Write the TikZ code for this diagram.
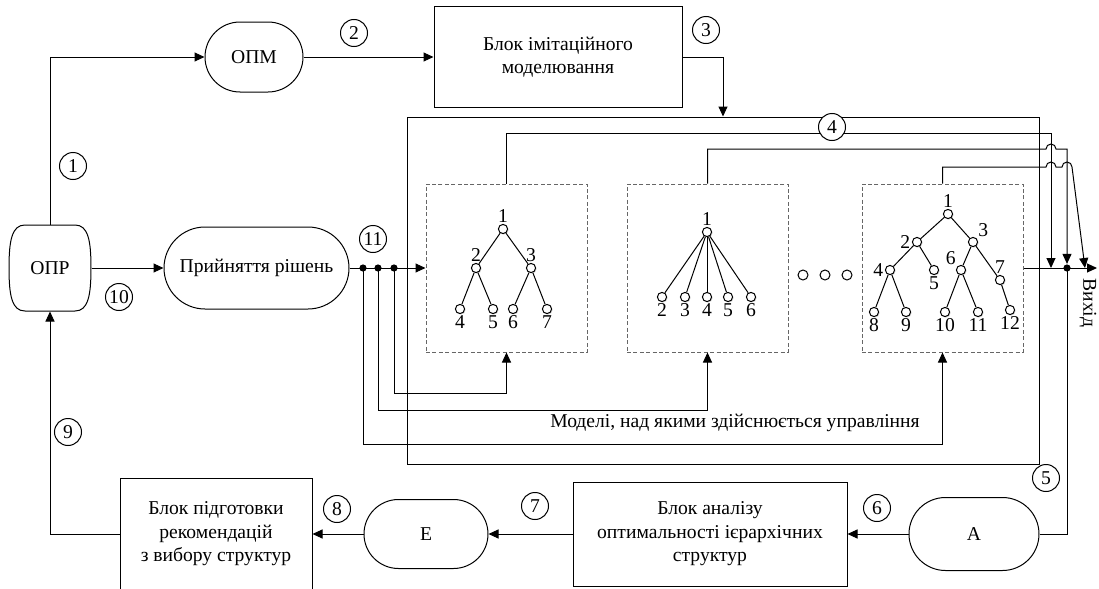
\documentclass[tikz,border=0pt]{standalone}
\usepackage{fontspec}
\setmainfont{Liberation Serif}
\usetikzlibrary{arrows.meta,shapes.misc,shadows}

\tikzset{
  link/.style={-{Triangle[length=5pt,width=4.5pt]}},
  blockbox/.style={draw, rectangle, align=center, inner sep=2pt},
  termbox/.style={draw, rounded rectangle, align=center, inner sep=2pt},
  modelbox/.style={draw=black!60, dash pattern=on 2pt off 1.2pt, minimum width=80.5pt, minimum height=84pt},
  num/.style={draw, circle, fill=white, minimum size=13.5pt, inner sep=0pt},
  vert/.style={draw, circle, fill=white, minimum size=4.6pt, inner sep=0pt,
    drop shadow={shadow xshift=0.5pt, shadow yshift=-0.5pt, opacity=0.3}},
  lbl/.style={inner sep=0.6pt},
  dot/.style={circle, fill, inner sep=0pt, minimum size=3.6pt},
}

\begin{document}
\begin{tikzpicture}[x=0.5pt, y=-0.5pt, line width=0.5pt, font=\rmfamily\fontsize{9.8}{11.8}\selectfont]
  \useasboundingbox (0,0) rectangle (1099,589);

  \node[minimum width=41pt, minimum height=43pt] (opr) at (50,268) {ОПР};
  \draw (25,225) -- (75,225) .. controls (88,225) and (91,240) .. (91,268)
    .. controls (91,296) and (88,311) .. (75,311) -- (25,311)
    .. controls (12,311) and (9,296) .. (9,268)
    .. controls (9,240) and (12,225) .. (25,225) -- cycle;

  \node[termbox, minimum width=53pt, minimum height=35pt] (opm) at (254,57) {ОПМ};
  \node[blockbox, minimum width=124pt, minimum height=50.5pt] (sim) at (558,57) {Блок імітаційного\\моделювання};
  \node[termbox, minimum width=96.5pt, minimum height=41pt] (pr) at (256.5,268) {Прийняття рішень};
  \node[draw, minimum width=316pt, minimum height=173.5pt] (frame) at (723,290.5) {};

  \node[modelbox] (m1) at (506.5,268) {};
  \node[modelbox] (m2) at (707.5,268) {};
  \node[modelbox] (m3) at (942.5,268) {};

  \node[termbox, minimum width=69pt, minimum height=36.5pt] (fa) at (974,534) {А};
  \node[blockbox, minimum width=137pt, minimum height=52pt] (an) at (710,534) {Блок аналізу\\оптимальності ієрархічних\\структур};
  \node[termbox, minimum width=66pt, minimum height=34.5pt] (fe) at (426,534) {Е};
  \node[blockbox, minimum width=96pt, minimum height=55.5pt] (rec) at (216,534) {Блок підготовки\\рекомендацій\\з вибору структур};

  % tree 1
  \node[vert, label={[lbl]above:1}] (a1) at (503,229) {};
  \node[vert, label={[lbl]above:2}] (a2) at (476,268) {};
  \node[vert, label={[lbl]above:3}] (a3) at (531,268) {};
  \node[vert, label={[lbl]below:4}] (a4) at (460,309) {};
  \node[vert, label={[lbl]below:5}] (a5) at (493,309) {};
  \node[vert, label={[lbl]below:6}] (a6) at (513,309) {};
  \node[vert, label={[lbl]below:7}] (a7) at (547,309) {};
  \foreach \p/\c in {a1/a2,a1/a3,a2/a4,a2/a5,a3/a6,a3/a7}
    \draw (\p) -- (\c);

  % tree 2
  \node[vert, label={[lbl]above:1}] (b1) at (707,232) {};
  \foreach \i/\x in {2/662,3/685,4/707,5/728,6/751} {
    \node[vert, label={[lbl]below:\i}] (b\i) at (\x,297) {};
    \draw (b1) -- (b\i);
  }

  % tree 3
  \node[vert, label={[lbl]above:1}] (c1) at (948,214) {};
  \node[vert, label={[lbl]left:2}] (c2) at (917,242) {};
  \node[vert, label={[lbl]above right:3}] (c3) at (973,242) {};
  \node[vert, label={[lbl]left:4}] (c4) at (890,270) {};
  \node[vert, label={[lbl]below:5}] (c5) at (934,270) {};
  \node[vert, label={[lbl]above left:6}] (c6) at (961,270) {};
  \node[vert, label={[lbl]above:7}] (c7) at (1000,280) {};
  \node[vert, label={[lbl]below:8}] (c8) at (874,312) {};
  \node[vert, label={[lbl]below:9}] (c9) at (906,312) {};
  \node[vert, label={[lbl]below:10}] (c10) at (945,312) {};
  \node[vert, label={[lbl]below:11}] (c11) at (978,312) {};
  \node[vert, label={[lbl]below:12}] (c12) at (1010,310) {};
  \foreach \p/\c in {c1/c2,c1/c3,c2/c4,c2/c5,c3/c6,c3/c7,c4/c8,c4/c9,c6/c10,c6/c11,c7/c12}
    \draw (\p) -- (\c);

  \foreach \i/\x in {1/803,2/825,3/847}
    \node[draw, circle, minimum size=5pt, inner sep=0pt] (more\i) at (\x,275) {};

  \node (caption) at (735,423) {Моделі, над якими здійснюється управління};

  \node[dot] (d1) at (363,268) {};
  \node[dot] (d2) at (378,268) {};
  \node[dot] (d3) at (394,268) {};
  \node[dot] (j2) at (1067,268) {};
  \coordinate (j1) at (1051,268);
  \coordinate (j3) at (1085,268);
  \coordinate (exit) at (1097,268);
  \node[rotate=-90, inner sep=0pt] (outtext) at (1088,303) {Вихід};

  \draw[link] (opr.north) |- (opm.west);
  \draw[link] (opm.east) -- (sim.west);
  \draw[link] (sim.east) -| (frame.north);
  \draw[link] (opr.east) -- (pr.west);
  \draw[link] (pr.east) -- (m1.west);
  \draw[link] (d3.center) |- (0,393 -| m1.south) -- (m1.south);
  \draw[link] (d2.center) |- (0,410 -| m2.south) -- (m2.south);
  \draw[link] (d1.center) |- (0,444 -| m3.south) -- (m3.south);

  \draw[link] (m1.north) |- (1051,133) -- (j1);
  \draw[link] (m2.north) |- (1046,149) arc[start angle=180, end angle=360, radius=5]
    -- (1067,149) -- (j2.north);
  \draw[link] (m3.north) |- (1046,167) arc[start angle=180, end angle=360, radius=5]
    -- (1062,167) arc[start angle=180, end angle=360, radius=5] -- (j3);
  \draw[link] (m3.east) -- (exit);

  \draw (j2.center) |- (fa.east);
  \draw[link] (fa.west) -- (an.east);
  \draw[link] (an.west) -- (fe.east);
  \draw[link] (fe.west) -- (rec.east);
  \draw[link] (rec.west) -| (opr.south);

  \node[num] (n1) at (73,166) {1};
  \node[num] (n2) at (354,33) {2};
  \node[num] (n3) at (706,30) {3};
  \node[num] (n4) at (832,127) {4};
  \node[num] (n5) at (1046,478) {5};
  \node[num] (n6) at (877,508) {6};
  \node[num] (n7) at (535,506) {7};
  \node[num] (n8) at (337,509) {8};
  \node[num] (n9) at (68,432) {9};
  \node[num] (n10) at (119,297) {10};
  \node[num] (n11) at (373,239) {11};
\end{tikzpicture}
\end{document}
